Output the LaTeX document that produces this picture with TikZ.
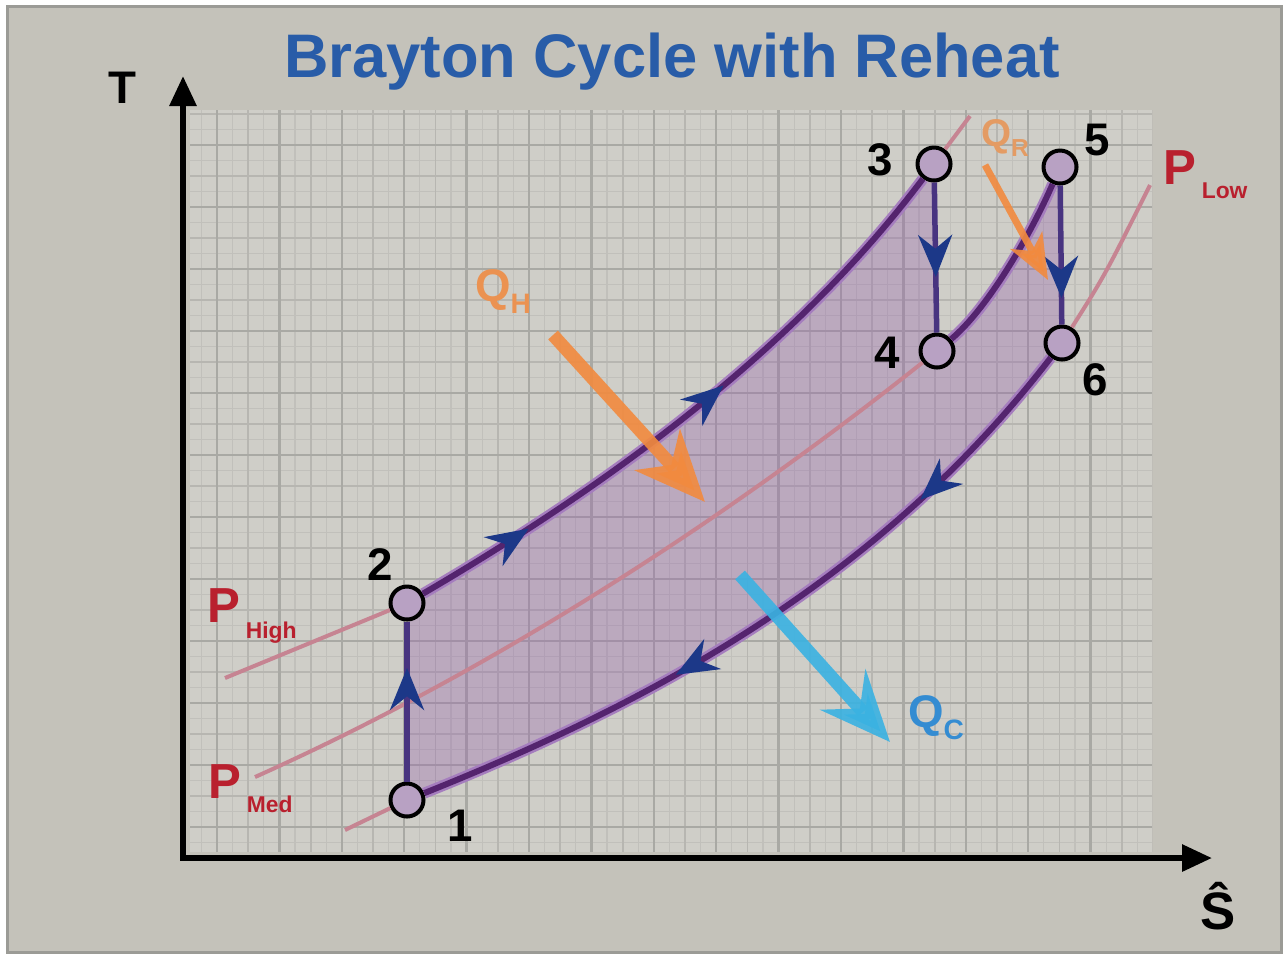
\documentclass[tikz,border=0pt]{standalone}
\usepackage{fontspec}
\setmainfont{Liberation Sans}
\usepackage{tikz}
\usetikzlibrary{arrows.meta,decorations.markings}
\definecolor{brbg}{RGB}{196,194,186}
\definecolor{brpanel}{RGB}{207,206,200}
\definecolor{brgrid}{RGB}{138,138,134}
\definecolor{brtitle}{RGB}{40,92,168}
\definecolor{brpurple}{RGB}{84,36,110}
\definecolor{brglow}{RGB}{165,125,190}
\definecolor{brfill}{RGB}{150,100,172}
\definecolor{brisobar}{RGB}{198,132,146}
\definecolor{brstroke}{RGB}{72,52,128}
\definecolor{brnavy}{RGB}{28,56,136}
\definecolor{brred}{RGB}{185,32,46}
\definecolor{brorange}{RGB}{242,138,62}
\definecolor{brcyan}{RGB}{58,178,226}
\definecolor{brqc}{RGB}{52,140,210}

\begin{document}
\begin{tikzpicture}[x=0.1mm,y=-0.1mm,font=\bfseries,
  pt/.style={circle,draw=black,fill=brglow!55!brpanel,line width=0.4mm,minimum size=3.3mm,inner sep=0pt},
  num/.style={font=\fontsize{13}{15}\selectfont\bfseries,inner sep=0pt},
  plabel/.style={text=brred,font=\fontsize{14}{16}\selectfont\bfseries,inner sep=0pt,anchor=base west},
  isobar/.style={draw=brisobar,line width=0.4mm},
  process/.style={draw=brpurple,line width=0.6mm,preaction={draw=brglow,line width=1.1mm}},
  stroke/.style={draw=brstroke,line width=0.55mm},
  flow/.style={postaction={decorate,decoration={markings,mark=at position #1 with {\arrow{Stealth[length=4.2mm,width=3.4mm,color=brnavy]}}}}},
  heat/.style={draw=brorange,opacity=0.9,line width=1.3mm,-{Stealth[length=7mm,width=6mm,inset=2mm]}},
  cool/.style={draw=brcyan,opacity=0.9,line width=1.3mm,-{Stealth[length=7mm,width=6mm,inset=2.5mm]}},
  qlabel/.style={font=\fontsize{13}{15}\selectfont\bfseries,inner sep=0pt},
  gridfine/.style={draw=brgrid!20!brpanel,line width=0.12mm},
  gridmid/.style={draw=brgrid!35!brpanel,line width=0.18mm},
  gridbold/.style={draw=brgrid!55!brpanel,line width=0.25mm},
  axis/.style={draw=black,line width=0.6mm,{Triangle[length=3mm,width=2.6mm]}-{Triangle[length=3mm,width=2.6mm]}}]
\fill[white] (0,0) rectangle (1287,962);
\fill[brbg,draw=brgrid!70!brbg,line width=0.3mm] (7,6) rectangle (1281,952);
\begin{scope}
\clip (190,110) rectangle (1152,852);
\fill[brpanel] (190,110) rectangle (1152,852);
\foreach \k in {-2,...,60} \draw[gridfine] ({217+15.6*\k},110) -- ++(0,742);
\foreach \k in {-2,...,47} \draw[gridfine] (190,{145+15.5*\k}) -- ++(962,0);
\foreach \k in {-1,...,14} \draw[gridmid] ({248.2+62.4*\k},110) -- ++(0,742);
\foreach \k in {-1,...,11} \draw[gridmid] (190,{176+62*\k}) -- ++(962,0);
\foreach \k in {-1,...,15} \draw[gridbold] ({217+62.4*\k},110) -- ++(0,742);
\foreach \k in {-1,...,11} \draw[gridbold] (190,{145+62*\k}) -- ++(962,0);
\end{scope}

\coordinate (ytip) at (183,76);
\coordinate (orig) at (183,858);
\coordinate (xtip) at (1212,858);
\draw[axis] (ytip) -- (orig) -- (xtip);
\node[text=brtitle,font=\fontsize{17.5}{20}\selectfont\bfseries] (title) at (672,62) {Brayton Cycle with Reheat};
\node[num] (tlab) at (122,88) {T};
\node[num,font=\fontsize{15}{17}\selectfont\bfseries] (slab) at (1218,906) {Ŝ};

\coordinate (s1) at (407,800);
\coordinate (s2) at (407,603);
\coordinate (s3) at (934,164);
\coordinate (s4) at (937,351);
\coordinate (s5) at (1060,167);
\coordinate (s6) at (1062,343);
\fill[brfill,fill opacity=0.35] (s1) -- (s2) .. controls (600,490) and (790,355) .. (s3)
  -- (s4) .. controls (987,309) and (1030,236) .. (s5)
  -- (s6) .. controls (882,577) and (657,700) .. (s1) -- cycle;

\node[pt] (p1) at (s1) {};
\node[pt] (p2) at (s2) {};
\node[pt] (p3) at (s3) {};
\node[pt] (p4) at (s4) {};
\node[pt] (p5) at (s5) {};
\node[pt] (p6) at (s6) {};
\node[num] (n1) at (460,826) {1};
\node[num] (n2) at (380,565) {2};
\node[num] (n3) at (880,160) {3};
\node[num] (n4) at (887,353) {4};
\node[num] (n5) at (1097,140) {5};
\node[num] (n6) at (1095,380) {6};

\coordinate (hp-a) at (225,678);
\coordinate (hp-b) at (970,116);
\coordinate (mp-a) at (255,777);
\coordinate (lp-a) at (345,830);
\coordinate (lp-b) at (1150,185);
\draw[isobar] (hp-a) -- (p2);
\draw[isobar] (p3) -- (hp-b);
\draw[isobar] (mp-a) .. controls (505,665) and (737,510) .. (p4);
\draw[isobar] (lp-a) -- (p1);
\draw[isobar] (p6) .. controls (1105,275) .. (lp-b);

\draw[process,flow=0.19,flow=0.56] (p2) .. controls (600,490) and (790,355) .. (p3);
\draw[process] (p4) .. controls (987,309) and (1030,236) .. (p5);
\draw[process,flow=0.25,flow=0.64] (p6) .. controls (882,577) and (657,700) .. (p1);
\draw[stroke,flow=0.71] (p1) -- (p2);
\draw[stroke,flow=0.63] (p3) -- (p4);
\draw[stroke,flow=0.81] (p5) -- (p6);

\node[plabel] (phigh) at (207,622) {P\kern1.5pt\raisebox{-1.6mm}{\fontsize{6.5}{7}\selectfont High}};
\node[plabel] (pmed) at (208,798) {P\kern1.5pt\raisebox{-1.4mm}{\fontsize{6.5}{7}\selectfont Med}};
\node[plabel] (plow) at (1163,184) {P\kern1.5pt\raisebox{-1.4mm}{\fontsize{6.5}{7}\selectfont Low}};

\node[qlabel,text=brorange!85!brbg] (qh) at (503,292) {Q\raisebox{-1.2mm}{\fontsize{8}{9}\selectfont H}};
\coordinate (qh-a) at (553,335);
\coordinate (qh-b) at (705,502);
\draw[heat] (qh-a) -- (qh-b);
\node[qlabel,text=brorange!70!brbg,font=\fontsize{11}{13}\selectfont\bfseries] (qr) at (1005,138) {Q\raisebox{-1mm}{\fontsize{7}{8}\selectfont R}};
\coordinate (qr-a) at (985,165);
\coordinate (qr-b) at (1048,280);
\draw[heat,line width=0.7mm,-{Stealth[length=4.5mm,width=3.6mm,inset=1.2mm]}] (qr-a) -- (qr-b);
\coordinate (qc-a) at (740,575);
\coordinate (qc-b) at (890,742);
\draw[cool] (qc-a) -- (qc-b);
\node[qlabel,text=brqc] (qc) at (936,718) {Q\raisebox{-1.2mm}{\fontsize{8}{9}\selectfont C}};
\end{tikzpicture}
\end{document}
